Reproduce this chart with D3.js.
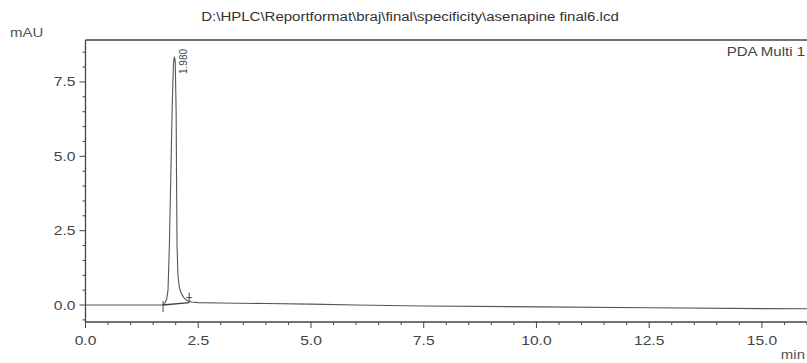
<!DOCTYPE html>
<html>
<head>
<meta charset="utf-8">
<script src="https://cdn.jsdelivr.net/npm/d3@7"></script>
<style>
  body { margin: 0; background: #fff; }
  svg { display: block; font-family: "Liberation Sans", Arial, sans-serif; }
</style>
</head>
<body>
<svg id="chart" width="807" height="363"></svg>
<script>
// chromatogram (time in min, signal in mAU)
const timeMin = [0, 0.5, 1.0, 1.5, 1.70, 1.75, 1.80, 1.83, 1.86, 1.89, 1.92, 1.95, 1.97, 1.99,
  2.01, 2.02, 2.03, 2.05, 2.08, 2.12, 2.18, 2.25, 2.35, 2.5, 3.0, 4.0, 5.0, 6.0, 7.5,
  10.0, 12.5, 15.0, 16.5];
const signalMAU = [0, 0, 0, 0, 0, 0.03, 0.2, 0.5, 2.0, 4.2, 6.5, 8.1, 8.35, 8.2,
  6.5, 4.0, 2.0, 1.0, 0.6, 0.4, 0.25, 0.15, 0.1, 0.08, 0.07, 0.05, 0.03, 0.0, -0.03,
  -0.06, -0.09, -0.12, -0.13];

const peakTimes = [1.98];
const peakLabels = ['1.980'];
const peakStart = [1.72, 0];
const peakEnd = [2.3, 0.08];

const xTicks = [0, 2.5, 5, 7.5, 10, 12.5, 15];
const yTicks = [0, 2.5, 5, 7.5];

const title = 'D:\\HPLC\\Reportformat\\braj\\final\\specificity\\asenapine final6.lcd';
const detector = 'PDA Multi 1';

const svg = d3.select('svg#chart');
const ink = '#444';
const stretch = 1.25; // the scanned print is wider than tall

const x = d3.scaleLinear().domain([0, 16.0]).range([85.5, 807]);
const y = d3.scaleLinear().domain([-0.57, 8.91]).range([322, 40]);

// text placed with the same horizontal stretch as the print
function label(parent, tx, ty, txt, size, anchor) {
  return parent.append('text')
    .attr('transform', 'translate(' + tx + ',' + ty + ') scale(' + stretch + ',1)')
    .attr('text-anchor', anchor || 'start')
    .attr('font-size', size)
    .attr('fill', '#333')
    .text(txt);
}

label(svg, 410, 20.5, title, '12px', 'middle');
label(svg, 10, 37, 'mAU', '12px').attr('fill', '#555');
label(svg, 805, 359, 'min', '12px', 'end').attr('fill', '#555');
label(svg, 805, 56, detector, '12px', 'end').attr('fill', '#444');

// top frame line
svg.append('line')
  .attr('x1', x(0)).attr('x2', 807)
  .attr('y1', y.range()[1]).attr('y2', y.range()[1])
  .attr('stroke', ink).attr('stroke-width', 1.5);

// left axis with minor ticks every 0.5
const yMinor = d3.range(-0.5, 8.51, 0.5);
const yAxis = svg.append('g')
  .attr('transform', 'translate(' + x(0) + ',0)');
yAxis.append('line')
  .attr('y1', y.range()[1]).attr('y2', y.range()[0])
  .attr('stroke', ink).attr('stroke-width', 1.3);
yAxis.selectAll('line.minor')
  .data(yMinor)
  .join('line')
  .attr('class', 'minor')
  .attr('x1', d => yTicks.includes(d) ? -6 : -3).attr('x2', 0)
  .attr('y1', d => y(d)).attr('y2', d => y(d))
  .attr('stroke', ink);
yTicks.forEach(d => {
  label(yAxis, -10, y(d) + 4.5, d3.format('.1f')(d), '12.5px', 'end').attr('fill', '#444');
});

// bottom axis with minor ticks every 0.5
const xMinor = d3.range(0, 16.01, 0.5);
const xAxis = svg.append('g')
  .attr('transform', 'translate(0,' + y.range()[0] + ')');
xAxis.append('line')
  .attr('x1', x(0)).attr('x2', 807)
  .attr('stroke', ink).attr('stroke-width', 1.3);
xAxis.selectAll('line.minor')
  .data(xMinor)
  .join('line')
  .attr('class', 'minor')
  .attr('x1', d => x(d)).attr('x2', d => x(d))
  .attr('y1', 0).attr('y2', d => xTicks.includes(d) ? 6 : 3)
  .attr('stroke', ink);
xTicks.forEach(d => {
  label(xAxis, x(d), 22.5, d3.format('.1f')(d), '12.5px', 'middle').attr('fill', '#444');
});

// signal trace
const pts = timeMin.map((t, i) => [t, signalMAU[i]]);
svg.append('path')
  .datum(pts)
  .attr('fill', 'none')
  .attr('stroke', '#555')
  .attr('stroke-width', 1.1)
  .attr('d', d3.line().x(d => x(d[0])).y(d => y(d[1])));

// integration baseline and markers
svg.append('line')
  .attr('x1', x(peakStart[0])).attr('y1', y(peakStart[1]))
  .attr('x2', x(peakEnd[0])).attr('y2', y(peakEnd[1]))
  .attr('stroke', ink).attr('stroke-width', 1.4);
svg.append('line')
  .attr('x1', x(peakStart[0])).attr('x2', x(peakStart[0]))
  .attr('y1', y(peakStart[1]) - 4).attr('y2', y(peakStart[1]) + 7)
  .attr('stroke', ink);
svg.append('line')
  .attr('x1', x(peakEnd[0])).attr('x2', x(peakEnd[0]))
  .attr('y1', y(peakEnd[1]) - 10).attr('y2', y(peakEnd[1]))
  .attr('stroke', ink);
svg.append('line')
  .attr('x1', x(peakEnd[0]) - 3).attr('x2', x(peakEnd[0]) + 3)
  .attr('y1', y(peakEnd[1]) - 5).attr('y2', y(peakEnd[1]) - 5)
  .attr('stroke', ink);

// retention time labels, rotated
svg.selectAll('text.peak')
  .data(peakTimes)
  .join('text')
  .attr('class', 'peak')
  .attr('transform', d => 'translate(' + (x(d) + 12) + ',74) rotate(-90)')
  .attr('font-size', '10px')
  .attr('fill', '#444')
  .text((d, i) => peakLabels[i]);
</script>
</body>
</html>
